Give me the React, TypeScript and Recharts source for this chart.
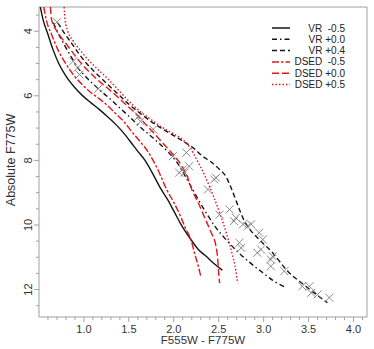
import React from "react";
import { ComposedChart, Line, Scatter, XAxis, YAxis, ReferenceArea, Legend } from "recharts";

// isochrones, [colour, magnitude]
const VR_M05 = [
  [0.515, 3.25], [0.545, 3.64], [0.6, 4.1], [0.656, 4.57], [0.72, 5.0], [0.8, 5.39], [0.9, 5.75],
  [0.99, 6.01], [1.08, 6.22], [1.17, 6.42], [1.26, 6.64], [1.36, 6.9], [1.45, 7.18], [1.52, 7.43],
  [1.6, 7.72], [1.68, 8.0], [1.75, 8.33], [1.86, 8.9], [1.93, 9.21], [2.01, 9.62], [2.08, 9.98],
  [2.19, 10.45], [2.27, 10.75], [2.36, 10.97], [2.45, 11.2], [2.54, 11.4],
];
const VR_P00 = [
  [0.66, 3.74], [0.72, 4.1], [0.79, 4.46], [0.86, 4.8], [0.92, 5.08], [1.0, 5.35], [1.1, 5.63],
  [1.2, 5.88], [1.3, 6.12], [1.4, 6.38], [1.5, 6.63], [1.6, 6.9], [1.72, 7.19], [1.84, 7.48],
  [1.95, 7.78], [2.04, 8.08], [2.12, 8.45], [2.2, 8.85], [2.28, 9.25], [2.36, 9.62], [2.46, 10.05],
  [2.58, 10.45], [2.7, 10.8], [2.84, 11.15], [3.0, 11.5], [3.12, 11.75], [3.25, 11.94],
];
const VR_P04 = [
  [0.71, 3.74], [0.78, 4.05], [0.86, 4.36], [0.95, 4.72], [1.03, 5.0], [1.12, 5.26], [1.21, 5.5],
  [1.3, 5.74], [1.4, 6.0], [1.5, 6.26], [1.62, 6.53], [1.74, 6.78], [1.86, 7.0], [1.98, 7.2],
  [2.1, 7.4], [2.22, 7.62], [2.32, 7.87], [2.42, 8.06], [2.51, 8.28], [2.58, 8.5], [2.63, 8.8],
  [2.68, 9.15], [2.73, 9.52], [2.78, 9.85], [2.85, 10.15], [2.95, 10.45], [3.1, 10.86],
  [3.25, 11.38], [3.47, 11.9], [3.71, 12.41],
];
const DSED_M05 = [
  [0.553, 3.25], [0.58, 3.64], [0.64, 4.1], [0.71, 4.57], [0.79, 4.97], [0.88, 5.34], [0.97, 5.62],
  [1.06, 5.86], [1.15, 6.05], [1.25, 6.27], [1.35, 6.54], [1.45, 6.82], [1.53, 7.1], [1.62, 7.4],
  [1.71, 7.72], [1.77, 8.0], [1.83, 8.33], [1.92, 8.9], [2.0, 9.3], [2.07, 9.7], [2.13, 10.1],
  [2.19, 10.45], [2.23, 10.86], [2.27, 11.25], [2.3, 11.58],
];
const DSED_P00 = [
  [0.627, 3.25], [0.64, 3.64], [0.7, 4.0], [0.8, 4.38], [0.9, 4.75], [0.99, 5.06], [1.08, 5.32],
  [1.17, 5.55], [1.27, 5.78], [1.36, 6.0], [1.45, 6.23], [1.55, 6.48], [1.65, 6.77], [1.76, 7.1],
  [1.86, 7.41], [1.97, 7.75], [2.08, 8.13], [2.15, 8.5], [2.2, 8.9], [2.27, 9.3], [2.34, 9.75],
  [2.41, 10.2], [2.47, 10.66], [2.49, 11.1], [2.5, 11.5], [2.51, 11.8],
];
const DSED_P05 = [
  [0.78, 3.25], [0.79, 3.64], [0.82, 4.0], [0.88, 4.3], [0.97, 4.63], [1.06, 4.92], [1.15, 5.17],
  [1.25, 5.43], [1.35, 5.72], [1.45, 6.02], [1.55, 6.3], [1.65, 6.54], [1.75, 6.74], [1.86, 6.96],
  [1.98, 7.15], [2.1, 7.36], [2.18, 7.6], [2.25, 7.95], [2.35, 8.5], [2.44, 9.1], [2.52, 9.7],
  [2.59, 10.3], [2.65, 10.9], [2.69, 11.4], [2.71, 11.8],
];

// observed stars
const STAR_X = [0.7, 0.88, 0.93, 0.95, 1.16, 1.61, 1.63, 1.77, 1.99, 2.14, 2.17, 2.06, 2.12, 2.1, 2.45, 2.47, 2.38,
  2.51, 2.62, 2.69, 2.67, 2.77, 2.82, 2.86, 2.95, 2.99, 2.73, 2.75, 2.93, 2.97, 3.1, 3.08, 3.08, 3.23,
  3.43, 3.51, 3.53, 3.6, 3.73];
const STAR_Y = [3.72, 4.93, 5.13, 5.34, 5.78, 6.63, 6.79, 7.04, 7.87, 7.76, 8.18, 8.38, 8.38, 8.28, 8.59, 8.54, 8.9,
  9.68, 9.52, 9.78, 9.88, 9.98, 10.04, 9.98, 10.24, 10.45, 10.55, 10.71, 10.86, 10.76, 10.97, 11.07, 11.28, 11.43,
  11.9, 11.9, 12.1, 12.15, 12.25];

const X_MINOR = [0.6, 0.7, 0.8, 0.9, 1.0, 1.1, 1.2, 1.3, 1.4, 1.5, 1.6, 1.7, 1.8, 1.9, 2.0, 2.1, 2.2, 2.3, 2.4,
  2.5, 2.6, 2.7, 2.8, 2.9, 3.0, 3.1, 3.2, 3.3, 3.4, 3.5, 3.6, 3.7, 3.8, 3.9, 4.0, 4.1];
const X_LABELS = [1.0, 1.5, 2.0, 2.5, 3.0, 3.5, 4.0];
const Y_MINOR = [3.5, 4, 4.5, 5, 5.5, 6, 6.5, 7, 7.5, 8, 8.5, 9, 9.5, 10, 10.5, 11, 11.5, 12, 12.5];
const Y_LABELS = [4, 6, 8, 10, 12];

const RED = "#e3161b";
const BLACK = "#151515";
const FRAME = "#a0a0a0";
const FONT = "'Liberation Sans', Arial, sans-serif";

const SERIES = [
  { name: "VR\u00a0\u00a0-0.5", data: VR_M05, color: BLACK, dash: undefined },
  { name: "VR +0.0", data: VR_P00, color: BLACK, dash: "5 3 1.5 3" },
  { name: "VR +0.4", data: VR_P04, color: BLACK, dash: "5 3" },
  { name: "DSED\u00a0\u00a0-0.5", data: DSED_M05, color: RED, dash: "7 2 2.5 2" },
  { name: "DSED +0.0", data: DSED_P00, color: RED, dash: "7 3" },
  { name: "DSED +0.5", data: DSED_P05, color: RED, dash: "1.5 2" },
];

const stars = STAR_X.map((x, i) => ({ x, y: STAR_Y[i] }));

const XTick = ({ x, y, payload }: any) => {
  const v = payload.value;
  const major = X_LABELS.includes(v);
  return (
    <g>
      <line x1={x} x2={x} y1={y} y2={y + (major ? 5 : 3)} stroke={FRAME} />
      {major && (
        <text x={x} y={y + 16} textAnchor="middle" fontSize={11} fill="#333" fontFamily={FONT}>
          {v.toFixed(1)}
        </text>
      )}
    </g>
  );
};

const YTick = ({ x, y, payload }: any) => {
  const v = payload.value;
  const major = Y_LABELS.includes(v);
  return (
    <g>
      <line x1={x} x2={x - (major ? 5 : 3)} y1={y} y2={y} stroke={FRAME} />
      {major && (
        <text
          x={x - 11}
          y={y}
          transform={`rotate(-90, ${x - 11}, ${y})`}
          textAnchor="middle"
          dominantBaseline="central"
          fontSize={11}
          fill="#333"
          fontFamily={FONT}
        >
          {v}
        </text>
      )}
    </g>
  );
};

const Cross = ({ cx, cy }: any) => (
  <g stroke="#7c7c7c" strokeWidth={0.9}>
    <line x1={cx - 4} y1={cy - 4} x2={cx + 4} y2={cy + 4} />
    <line x1={cx - 4} y1={cy + 4} x2={cx + 4} y2={cy - 4} />
  </g>
);

const renderLegend = () => (
  <svg width={90} height={72}>
    {SERIES.map((s, i) => (
      <g key={s.name}>
        <line x1={3} x2={21} y1={8 + i * 11.3} y2={8 + i * 11.3} stroke={s.color} strokeWidth={1.5} strokeDasharray={s.dash} />
        <text x={76} y={8 + i * 11.3} textAnchor="end" dominantBaseline="central" fontSize={10} fill="#222" fontFamily={FONT}>
          {s.name}
        </text>
      </g>
    ))}
  </svg>
);

export default function App() {
  return (
    <div style={{ position: "absolute", left: 0, top: 0, background: "#fff" }}>
      <ComposedChart width={374} height={349} margin={{ top: 7, right: 7, left: 0, bottom: 0 }}>
        <XAxis
          type="number"
          dataKey="x"
          domain={[0.5, 4.15]}
          ticks={X_MINOR}
          interval={0}
          tick={<XTick />}
          tickSize={0}
          tickMargin={0}
          axisLine={false}
          tickLine={false}
          height={32}
          allowDataOverflow
          label={{
            content: ({ viewBox }: any) => (
              <text x={viewBox.x + viewBox.width / 2} y={viewBox.y + 27} textAnchor="middle" fontSize={11.5} fill="#333" fontFamily={FONT}>
                F555W - F775W
              </text>
            ),
          }}
        />
        <YAxis
          type="number"
          dataKey="y"
          reversed
          domain={[3.25, 12.85]}
          ticks={Y_MINOR}
          interval={0}
          tick={<YTick />}
          tickSize={0}
          tickMargin={0}
          axisLine={false}
          tickLine={false}
          width={39}
          allowDataOverflow
          label={{
            content: ({ viewBox }: any) => {
              const cx = viewBox.x + 11;
              const cy = viewBox.y + viewBox.height / 2 - 2;
              return (
                <text x={cx} y={cy} transform={`rotate(-90, ${cx}, ${cy})`} textAnchor="middle" dominantBaseline="central" fontSize={12.5} fill="#333" fontFamily={FONT}>
                  Absolute F775W
                </text>
              );
            },
          }}
        />
        <ReferenceArea x1={0.5} x2={4.15} y1={3.25} y2={12.85} fill="none" stroke={FRAME} strokeWidth={1} />
        <Scatter data={stars} shape={<Cross />} isAnimationActive={false} />
        {SERIES.map((s) => (
          <Line
            key={s.name}
            name={s.name}
            data={s.data.map(([x, y]) => ({ x, y }))}
            dataKey="y"
            type="monotone"
            stroke={s.color}
            strokeWidth={1.4}
            strokeDasharray={s.dash}
            dot={false}
            activeDot={false}
            isAnimationActive={false}
          />
        ))}
        <Legend
          layout="vertical"
          align="center"
          verticalAlign="middle"
          wrapperStyle={{ top: 20, left: 269, width: 90 }}
          content={renderLegend}
        />
      </ComposedChart>
    </div>
  );
}
